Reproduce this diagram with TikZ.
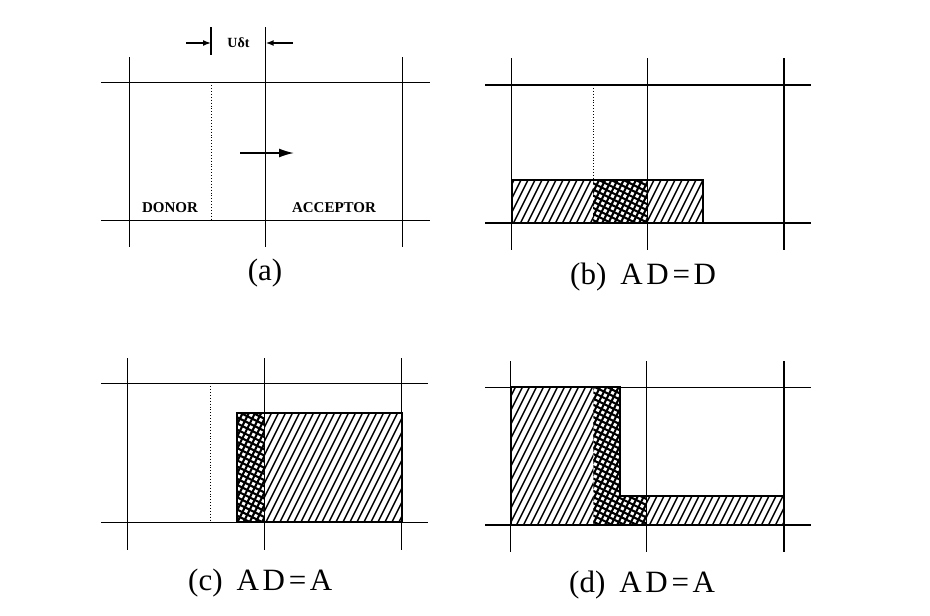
\documentclass[tikz,border=0pt]{standalone}
\usepackage{fontspec}
\newfontfamily\lblfont{Liberation Serif}
\newfontfamily\spacedfont[LetterSpace=12]{Liberation Serif}
\usetikzlibrary{arrows.meta}
\tikzset{
  gridline/.style={line width=1.3pt},
  dotline/.style={line width=0.9pt, dotted},
  hatchline/.style={line width=1.4pt},
  xline/.style={line width=2.1pt},
  boxedge/.style={line width=2pt, line join=miter},
  captext/.style={font=\lblfont\fontsize{31}{31}\selectfont, inner sep=0pt, anchor=west},
  zonetext/.style={font=\lblfont\bfseries\fontsize{15}{15}\selectfont, inner sep=0pt},
  dimtext/.style={font=\lblfont\bfseries\fontsize{14}{14}\selectfont, inner sep=0pt},
  dimarrow/.style={line width=1.5pt, -{Latex[length=8pt,width=6pt]}},
  flowarrow/.style={line width=1.6pt, -{Latex[length=15pt,width=9pt]}}
}
\newcommand\myhatch[4]{%
  \begin{scope}
    \clip (#1,#2) rectangle (#3,#4);
    \foreach \k in {-320,-313,...,940} \draw[hatchline] (\k,616) -- ++(308,-616);
  \end{scope}}
\newcommand\mycross[4]{%
  \begin{scope}
    \clip (#1,#2) rectangle (#3,#4);
    \foreach \k in {-320,-313.85,...,940} \draw[xline] (\k,616) -- ++(308,-616);
    \foreach \k in {-470,-463.85,...,620} \draw[xline] (0,\k) -- ++(930,465);
  \end{scope}}
\newcommand\capline[2]{#1\hspace{14pt}{\spacedfont #2}}
\begin{document}
\begin{tikzpicture}[x=1pt,y=-1pt]
\useasboundingbox (0,0) rectangle (930,616);

% ---------------- panel (a)
\draw[gridline] (101,82.3) -- (430,82.3);
\draw[gridline] (101,220.7) -- (430,220.7);
\draw[gridline] (129.5,57) -- (129.5,247);
\draw[gridline] (265.7,27) -- (265.7,247);
\draw[gridline] (402.7,57) -- (402.7,247);
\draw[dotline] (211,82.3) -- (211,220.7);
\draw[gridline] (211,27) -- (211,55);
\coordinate (dl0) at (186,43);
\coordinate (dl1) at (211,43);
\coordinate (dr0) at (293,43);
\coordinate (dr1) at (265.7,43);
\draw[dimarrow] (dl0) -- (dl1);
\draw[dimarrow] (dr0) -- (dr1);
\node[dimtext] (udt) at (238.5,43) {Uδt};
\coordinate (fa0) at (240,153);
\coordinate (fa1) at (294,153);
\draw[flowarrow] (fa0) -- (fa1);
\node[zonetext] (donor) at (170,208) {DONOR};
\node[zonetext] (acceptor) at (334,208) {ACCEPTOR};
\node[captext, anchor=center] (capa) at (265,273) {(a)};

% ---------------- panel (b)
\myhatch{511.7}{180}{593}{223}
\mycross{593}{180}{647.7}{223}
\myhatch{647.7}{180}{702.7}{223}
\draw[gridline] (485,85) -- (811,85);
\draw[gridline] (485,223) -- (811,223);
\draw[gridline] (511.7,58) -- (511.7,250);
\draw[gridline] (647.7,58) -- (647.7,250);
\draw[gridline] (784,58) -- (784,250);
\draw[dotline] (593,85) -- (593,180);
\draw[boxedge] (511.7,180) rectangle (702.7,223);
\node[captext] (capb) at (570,277) {\capline{(b)}{AD=D}};

% ---------------- panel (c)
\mycross{237.3}{412.7}{264.3}{522.3}
\myhatch{264.3}{412.7}{401.7}{522.3}
\draw[gridline] (101,383.3) -- (428,383.3);
\draw[gridline] (101,522.3) -- (428,522.3);
\draw[gridline] (127.7,358) -- (127.7,550);
\draw[gridline] (264.3,358) -- (264.3,550);
\draw[gridline] (401.7,358) -- (401.7,550);
\draw[dotline] (210,383.3) -- (210,522.3);
\draw[boxedge] (237.3,412.7) rectangle (401.7,522.3);
\node[captext] (capc) at (188,583) {\capline{(c)}{AD=A}};

% ---------------- panel (d)
\myhatch{510.7}{387.3}{593.3}{525}
\mycross{593.3}{387.3}{620}{525}
\mycross{620}{496}{646.7}{525}
\myhatch{646.7}{496}{784}{525}
\draw[gridline] (485,387.3) -- (811,387.3);
\draw[gridline] (485,525) -- (811,525);
\draw[gridline] (510.7,361) -- (510.7,552);
\draw[gridline] (646.7,361) -- (646.7,552);
\draw[gridline] (784,361) -- (784,552);
\draw[boxedge] (510.7,387.3) -- (620,387.3) -- (620,496) -- (784,496)
  -- (784,525) -- (510.7,525) -- cycle;
\node[captext] (capd) at (569,585) {\capline{(d)}{AD=A}};
\end{tikzpicture}
\end{document}
